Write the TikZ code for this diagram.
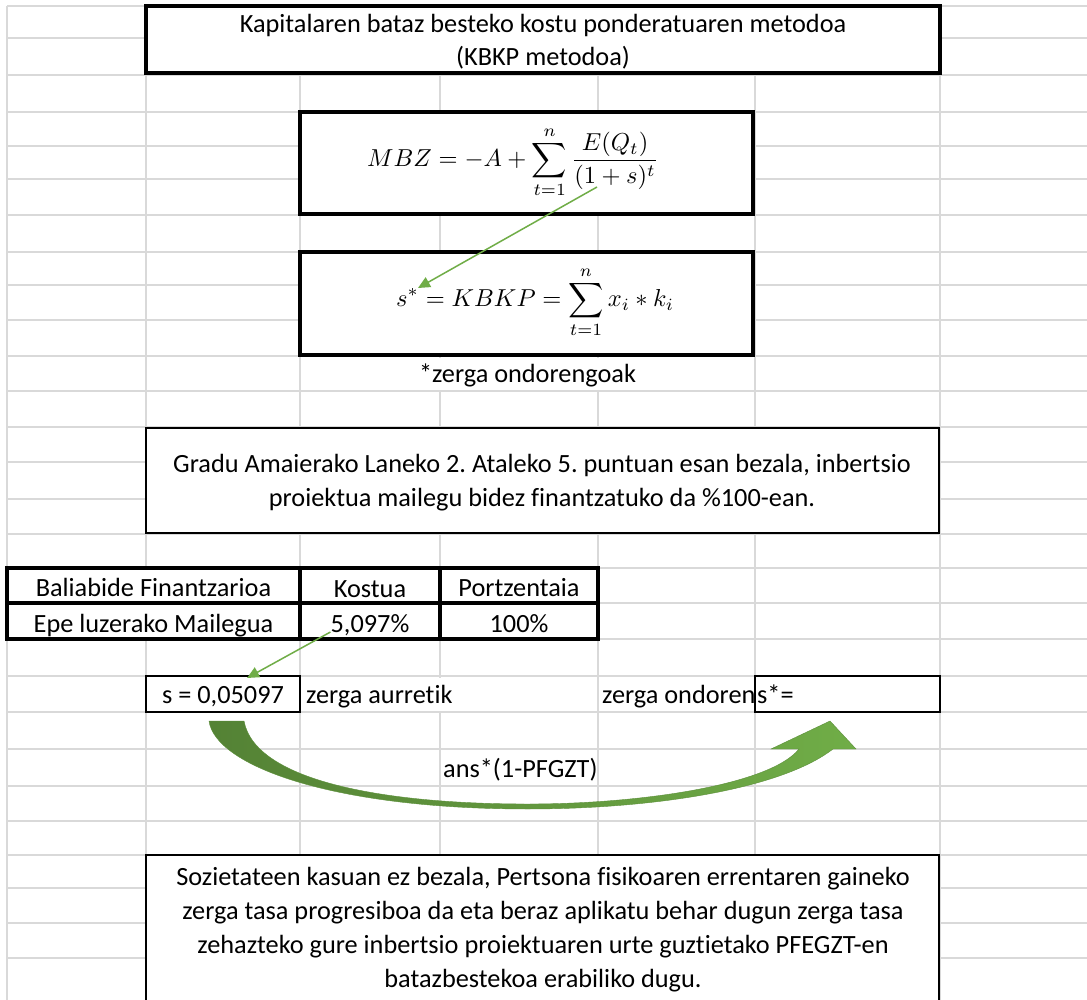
\documentclass[tikz,border=0pt]{standalone}
\usepackage{fontspec}
\setmainfont{Carlito}[Ligatures=NoCommon]
\usepackage{graphicx}
\usetikzlibrary{arrows.meta}
\frenchspacing
\definecolor{gridgray}{RGB}{217,217,217}
\definecolor{linkgreen}{RGB}{112,173,71}
\definecolor{darkgreen}{RGB}{84,130,53}
\newcommand{\cellfont}{\fontsize{26.3}{34}\selectfont}
\newcommand{\eqbox}[1]{\scalebox{2.45}{\fontsize{10}{12}\selectfont$\displaystyle #1$}}
\begin{document}
\begin{tikzpicture}[x=1pt,y=-1pt,
  gridline/.style={draw=gridgray,line width=1.5pt},
  thickbox/.style={draw=black,line width=3.2pt,fill=white,inner sep=0pt,outer sep=0pt},
  thinbox/.style={draw=black,line width=1.8pt,fill=white,inner sep=0pt,outer sep=0pt},
  cell/.style={inner sep=0pt,anchor=base,font=\cellfont},
  cellw/.style={cell,anchor=base west},
  formula/.style={inner sep=0pt,anchor=base west},
  link/.style={draw=linkgreen,line width=1.5pt,-{Triangle[length=12pt,width=11pt]}},
]
\useasboundingbox (0,0) rectangle (1087,1000);
\fill[white] (0,0) rectangle (1087,1000);
% spreadsheet grid
\foreach \x in {7,146,300,440,598,755,940}
  \draw[gridline] (\x,6) -- (\x,1000);
\foreach \y in {6,38,75,112,146,179,215,252,285,320,356,391,427,462,499,534,568,603,639,676,712,749,786,821,855,888,923,958}
  \draw[gridline] (7,\y) -- (1087,\y);
% overflowing text hides grid lines
\fill[white] (301,357.5) rectangle (754,390);
\fill[white] (301,677.5) rectangle (590,711);

% title
\node[thickbox,minimum width=794pt,minimum height=67pt] (titlebox) at (543,39.5) {};
\node[cell] (title1) at (543,33) {Kapitalaren bataz besteko kostu ponderatuaren metodoa};
\node[cell] (title2) at (543,66) {(KBKP metodoa)};

% formulas
\node[thickbox,minimum width=453pt,minimum height=102pt] (mbzbox) at (526.5,163) {};
\node[formula] (mbz) at (367,167) {\eqbox{MBZ=-A+\sum_{t=1}^{n}\frac{E(Q_t)}{(1+s)^t}}};
\node[thickbox,minimum width=453pt,minimum height=103pt] (kbkpbox) at (526.5,303.5) {};
\node[formula] (kbkp) at (396,307) {\eqbox{s^{*}=KBKP=\sum_{t=1}^{n}x_i*k_i}};
\node[cell] (note) at (527.5,382) {*zerga ondorengoak};

% Gradu box
\node[thinbox,minimum width=793pt,minimum height=105pt] (gradubox) at (542.5,480.5) {};
\node[cell] (gradu1) at (542,472) {Gradu Amaierako Laneko 2. Ataleko 5. puntuan esan bezala, inbertsio};
\node[cell] (gradu2) at (542,506) {proiektua mailegu bidez finantzatuko da \%100-ean.};

% table
\node[thickbox,minimum width=293pt,minimum height=35pt] (t11) at (153.5,585.5) {};
\node[thickbox,minimum width=140pt,minimum height=35pt] (t12) at (370,585.5) {};
\node[thickbox,minimum width=158pt,minimum height=35pt] (t13) at (519,585.5) {};
\node[thickbox,minimum width=293pt,minimum height=36pt] (t21) at (153.5,621) {};
\node[thickbox,minimum width=140pt,minimum height=36pt] (t22) at (370,621) {};
\node[thickbox,minimum width=158pt,minimum height=36pt] (t23) at (519,621) {};
\node[cell] (h1) at (153.5,596) {Baliabide Finantzarioa};
\node[cell] (h2) at (370,597) {Kostua};
\node[cell] (h3) at (519,596) {Portzentaia};
\node[cell] (v1) at (153.5,632) {Epe luzerako Mailegua};
\node[cell] (v2) at (370,632) {5,097\%};
\node[cell] (v3) at (519,632) {100\%};

% s row
\node[thinbox,minimum width=154pt,minimum height=36pt] (sbox) at (223,694) {};
\node[cell] (sval) at (223,703) {s = 0,05097};
\node[cellw] (aurretik) at (306,703) {zerga aurretik};
\node[cellw] (ondoren) at (602,703) {zerga ondoren};
\node[thinbox,minimum width=185pt,minimum height=36pt] (sstarbox) at (847.5,694) {};
\node[cellw] (sstar) at (757,703) {s*=};

% bottom box
\node[thinbox,minimum width=793pt,minimum height=150pt] (bottombox) at (542.5,930) {};
\node[cell] (b1) at (543,885) {Sozietateen kasuan ez bezala, Pertsona fisikoaren errentaren gaineko};
\node[cell] (b2) at (543,919) {zerga tasa progresiboa da eta beraz aplikatu behar dugun zerga tasa};
\node[cell] (b3) at (543,953) {zehazteko gure inbertsio proiektuaren urte guztietako PFEGZT-en};
\node[cell] (b4) at (543,987) {batazbestekoa erabiliko dugu.};

% thin green connectors
\coordinate (a1s) at (597,187);
\coordinate (a1e) at (418,288);
\draw[link] (a1s) -- (a1e);
\coordinate (a2e) at (247,678);
\draw[link] (v2.base west) -- (a2e);

% curved block arrow
\shade[left color=darkgreen,right color=linkgreen,draw=darkgreen!70!linkgreen,line width=0.4pt]
  (209,721) .. controls (215,765) and (330,809) .. (528,809)
  .. controls (650,809) and (780,790) .. (833,749)
  -- (856,749) -- (830,721) -- (771,749) -- (799,749)
  .. controls (770,785) and (640,804) .. (528,804)
  .. controls (380,804) and (255,780) .. (244,721) -- cycle;
\node[cellw] (ans) at (443,777) {ans*(1-PFGZT)};
\end{tikzpicture}
\end{document}
